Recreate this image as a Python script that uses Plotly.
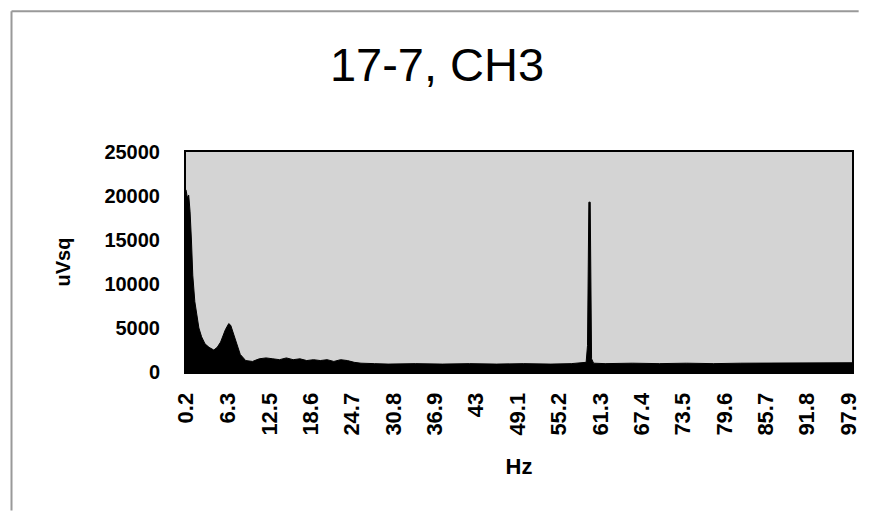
import plotly.graph_objects as go

# Spectrum (Hz, uVsq)
freq_hz = [0.2, 0.4, 0.6, 0.8, 1.0, 1.2, 1.5, 1.8, 2.1, 2.5, 3.0, 3.6, 4.3, 4.8, 5.3,
           6.0, 6.5, 6.8, 7.2, 7.7, 8.2, 9.0, 10.0, 11.0, 12.0, 13.0, 14.0, 15.0,
           16.0, 17.0, 18.0, 19.0, 20.0, 21.0, 22.0, 23.0, 24.0, 25.0, 26.0, 28.0,
           30.0, 34.0, 38.0, 42.0, 46.0, 50.0, 54.0, 57.0, 59.2, 59.4, 59.6, 59.8,
           60.0, 60.3, 62.0, 66.0, 70.0, 74.0, 78.0, 82.0, 86.0, 90.0, 94.0, 98.4]
power_uvsq = [20700, 19800, 20100, 18200, 15000, 11000, 8000, 6200, 5000, 4000, 3200,
              2800, 2500, 2800, 3400, 4800, 5500, 5300, 4300, 3000, 2000, 1300, 1200,
              1500, 1600, 1500, 1400, 1600, 1400, 1500, 1300, 1400, 1300, 1400, 1200,
              1400, 1300, 1100, 1000, 950, 900, 950, 900, 950, 900, 950, 900, 950,
              1100, 3000, 19300, 19300, 1500, 1000, 950, 1000, 950, 1000, 950, 1000,
              1000, 1050, 1000, 1050]

tick_labels = ["0.2", "6.3", "12.5", "18.6", "24.7", "30.8", "36.9", "43", "49.1",
               "55.2", "61.3", "67.4", "73.5", "79.6", "85.7", "91.8", "97.9"]
y_ticks = [0, 5000, 10000, 15000, 20000, 25000]

title_text = "17-7, CH3"
x_title = "Hz"
y_title = "uVsq"

FONT = "Liberation Sans, Arial, sans-serif"

fig = go.Figure()
fig.add_trace(go.Scatter(
    x=freq_hz, y=power_uvsq, mode="lines", fill="tozeroy",
    line=dict(color="black", width=1), fillcolor="black",
    hoverinfo="x+y", showlegend=False,
))

# Figure sized to sit inside the default 8px page margin without overflow
fig.update_layout(
    width=858, height=504,
    margin=dict(l=178, r=5, t=144, b=140),
    paper_bgcolor="white", plot_bgcolor="#d4d4d4",
    font=dict(family=FONT, color="black"),
    title=dict(text=title_text, x=0.5, xanchor="center", y=0.887, yanchor="middle",
               font=dict(size=47, family=FONT, color="black")),
    xaxis=dict(
        range=[0.2, 98.4], tickmode="array",
        tickvals=[float(t) for t in tick_labels], ticktext=tick_labels,
        tickangle=-90, showgrid=False, zeroline=False, ticks="",
        ticklabelstandoff=10, ticklabeloverflow="allow",
        showline=True, linecolor="black", linewidth=2, mirror=True,
        tickfont=dict(size=22, family=FONT, color="black", weight="bold"),
        title=dict(text=x_title, font=dict(size=22, family=FONT, weight="bold"), standoff=24),
    ),
    yaxis=dict(
        range=[0, 25000], tickmode="array", tickvals=y_ticks,
        ticktext=[str(v) for v in y_ticks],
        showgrid=False, zeroline=False, ticks="",
        ticklabelstandoff=20,
        showline=True, linecolor="black", linewidth=2, mirror=True,
        tickfont=dict(size=20, family=FONT, color="black", weight="bold"),
        title=dict(text=y_title, font=dict(size=20, family=FONT, weight="bold"), standoff=28),
    ),
    shapes=[
        dict(type="line", xref="paper", yref="paper", x0=-0.262, x1=1.01, y0=1.64, y1=1.64,
             line=dict(color="#999999", width=2)),
        dict(type="line", xref="paper", yref="paper", x0=-0.262, x1=-0.262, y0=1.64, y1=-0.63,
             line=dict(color="#999999", width=2)),
    ],
)

fig.write_html("out.html", config={"displayModeBar": False})
